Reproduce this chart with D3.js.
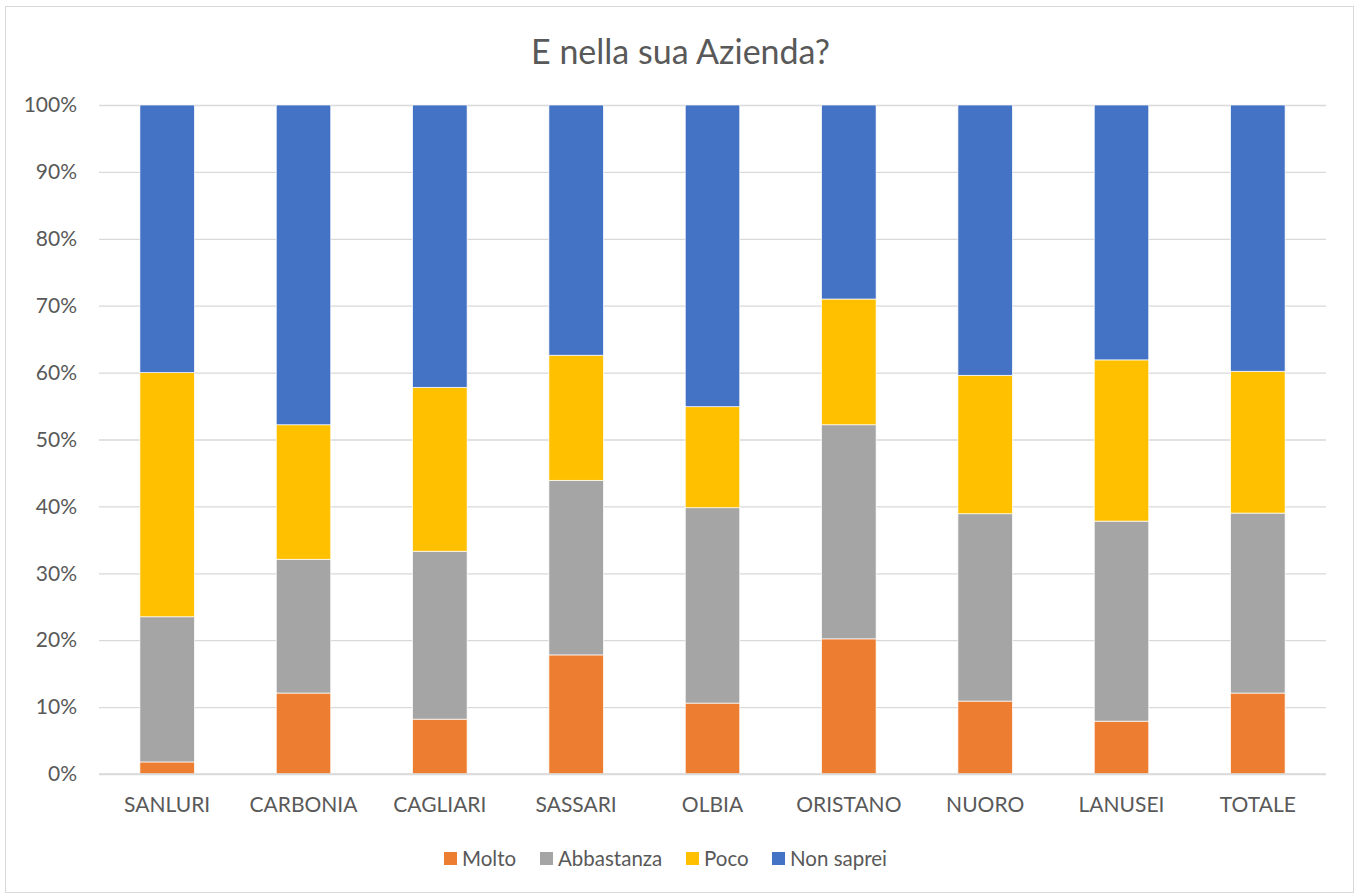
<!DOCTYPE html>
<html>
<head>
<meta charset="utf-8">
<script src="https://cdn.jsdelivr.net/npm/d3@7"></script>
<style>
  body { margin: 0; background: #fff; }
  text { font-family: Lato, "Open Sans", sans-serif; fill: #595959; }
</style>
</head>
<body>
<div id="chart"></div>
<script>
// Data (percentages per segment)
const categories = ["SANLURI", "CARBONIA", "CAGLIARI", "SASSARI", "OLBIA", "ORISTANO", "NUORO", "LANUSEI", "TOTALE"];
const molto      = [1.8, 12.1, 8.2, 17.8, 10.6, 20.2, 10.9, 7.9, 12.1];
const abbastanza = [21.7, 20.0, 25.1, 26.1, 29.2, 32.0, 28.0, 29.9, 26.9];
const poco       = [36.5, 20.1, 24.5, 18.7, 15.1, 18.8, 20.7, 24.1, 21.2];
const nonSaprei  = [40.0, 47.8, 42.2, 37.4, 45.1, 29.0, 40.4, 38.1, 39.8];
const seriesNames = ["Molto", "Abbastanza", "Poco", "Non saprei"];
const colors = ["#ED7D31", "#A5A5A5", "#FFC000", "#4472C4"];
const yTicks = [0, 10, 20, 30, 40, 50, 60, 70, 80, 90, 100];

const width = 1357, height = 895;
const margin = { top: 105, right: 31, bottom: 121, left: 99 };
const innerW = width - margin.left - margin.right;
const innerH = height - margin.top - margin.bottom;

const svg = d3.select("#chart").append("svg")
  .attr("width", width)
  .attr("height", height);

// Outer chart border
svg.append("rect")
  .attr("x", 5.5).attr("y", 6.5)
  .attr("width", 1348).attr("height", 886)
  .attr("fill", "#fff")
  .attr("stroke", "#D9D9D9");

// Title
svg.append("text")
  .attr("x", width / 2 + 2).attr("y", 64)
  .attr("text-anchor", "middle")
  .style("font-size", "34px")
  .text("E nella sua Azienda?");

const g = svg.append("g").attr("transform", `translate(${margin.left},${margin.top})`);

const x = d3.scaleBand().domain(categories).range([0, innerW]).paddingInner(0.6).paddingOuter(0.3);
const y = d3.scaleLinear().domain([0, 100]).range([innerH, 0]);

// Gridlines
g.append("g")
  .call(d3.axisLeft(y).tickValues(yTicks).tickSize(-innerW).tickFormat(""))
  .call(s => s.select(".domain").remove())
  .call(s => s.selectAll("line").attr("stroke", "#D9D9D9").attr("stroke-width", 1.3));

// Y labels
g.append("g")
  .call(d3.axisLeft(y).tickValues(yTicks).tickSize(0).tickPadding(22).tickFormat(d => d + "%"))
  .call(s => s.select(".domain").remove())
  .call(s => s.selectAll("text").style("font-size", "21px"));

// Stacked bars
const rows = categories.map((c, i) => ({
  cat: c, Molto: molto[i], Abbastanza: abbastanza[i], Poco: poco[i], "Non saprei": nonSaprei[i]
}));
const stacked = d3.stack().keys(seriesNames)(rows);

g.selectAll(".layer")
  .data(stacked)
  .enter().append("g")
  .attr("fill", (d, i) => colors[i])
  .selectAll("rect")
  .data(d => d)
  .enter().append("rect")
  .attr("x", d => x(d.data.cat))
  .attr("y", d => y(d[1]))
  .attr("width", x.bandwidth())
  .attr("height", d => y(d[0]) - y(d[1]))
  .attr("stroke", "#fff")
  .attr("stroke-width", 0.7);

// X axis line + labels
g.append("line")
  .attr("x1", 0).attr("x2", innerW)
  .attr("y1", innerH).attr("y2", innerH)
  .attr("stroke", "#D9D9D9").attr("stroke-width", 1.3);

g.append("g")
  .attr("transform", `translate(0,${innerH})`)
  .call(d3.axisBottom(x).tickSize(0).tickPadding(23))
  .call(s => s.select(".domain").remove())
  .call(s => s.selectAll("text").style("font-size", "21px"));

// Legend
const legendItems = [
  { name: "Molto", x: 444 },
  { name: "Abbastanza", x: 540 },
  { name: "Poco", x: 686 },
  { name: "Non saprei", x: 772 }
];
const legend = svg.append("g");
legendItems.forEach((d, i) => {
  legend.append("rect")
    .attr("x", d.x).attr("y", 852)
    .attr("width", 13).attr("height", 13)
    .attr("fill", colors[i]);
  legend.append("text")
    .attr("x", d.x + 18).attr("y", 866)
    .style("font-size", "20.5px")
    .text(d.name);
});
</script>
</body>
</html>
